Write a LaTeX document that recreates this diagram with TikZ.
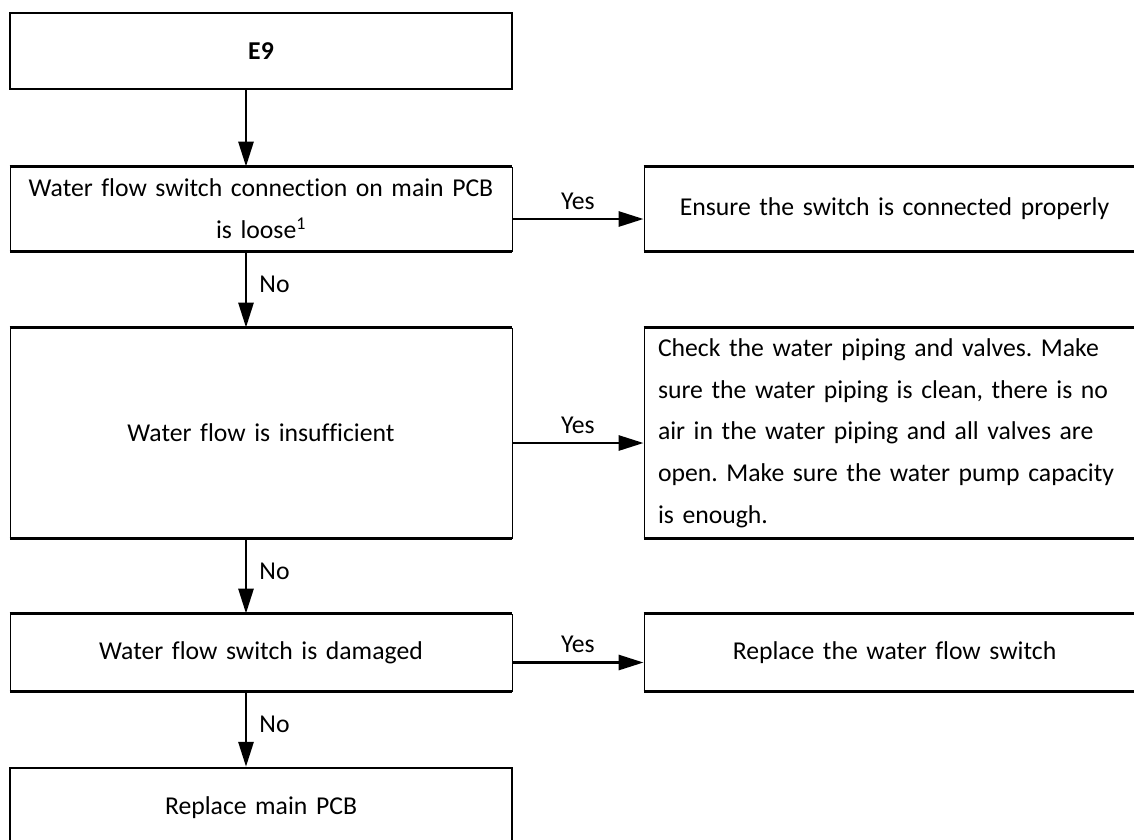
\documentclass[tikz,border=0pt]{standalone}
\usepackage{fontspec}
\setmainfont{Carlito}[Ligatures=NoCommon]
\usetikzlibrary{arrows.meta}
\frenchspacing
\begin{document}
\begin{tikzpicture}[x=1pt,y=-1pt,
  every node/.style={font=\fontsize{25.7}{41.7}\selectfont, inner sep=0pt},
  lbox/.style={rectangle, minimum width=502pt, align=center, text width=480pt},
  rbox/.style={rectangle, minimum width=501pt, align=center, text width=473pt},
  thickframe/.style={draw, line width=2.4pt},
  thinframe/.style={draw, line width=0.9pt},
  rule/.style={line width=2.4pt},
  flow/.style={line width=2.9pt, -{Triangle[length=25pt,width=15pt]}},
  lab/.style={font=\fontsize{25.7}{30}\selectfont}
]
\useasboundingbox (0,0) rectangle (1134,839);

% left column
\node[lbox, thickframe, minimum height=76pt] (e9) at (261,51) {\textbf{E9}};
\node[lbox, thinframe, minimum height=84pt] (b2) at (261,209)
  {Water flow switch connection on main PCB\\is loose\textsuperscript{1}};
\node[lbox, thinframe, minimum height=210pt] (b3) at (261,433) {Water flow is insufficient};
\node[lbox, thinframe, minimum height=77pt] (b4) at (261,652.5) {Water flow switch is damaged};
\node[lbox, thickframe, minimum height=80pt] (b5) at (261,808) {Replace main PCB};

% right column
\node[rbox, thinframe, minimum height=84pt] (r1) at (894.5,209) {Ensure the switch is connected properly};
\node[rbox, thinframe, minimum height=210pt, align=left] (r2) at (894.5,433)
  {Check the water piping and valves. Make\\
   sure the water piping is clean, there is no\\
   air in the water piping and all valves are\\
   open. Make sure the water pump capacity\\
   is enough.};
\node[rbox, thinframe, minimum height=77pt] (r3) at (894.5,652.5) {Replace the water flow switch};

% heavier horizontal rules of the boxes
\foreach \n in {b2,b3,b4,r1,r2,r3}{
  \draw[rule] (\n.north west) -- (\n.north east);
  \draw[rule] (\n.south west) -- (\n.south east);
}

% connectors
\draw[flow] ([xshift=-15pt]e9.south) -- ([xshift=-15pt]b2.north);
\draw[flow] ([xshift=-15pt]b2.south) --
  node[lab, midway, anchor=base west, xshift=12pt, yshift=-3pt] {No} ([xshift=-15pt]b3.north);
\draw[flow] ([xshift=-15pt]b3.south) --
  node[lab, midway, anchor=base west, xshift=12pt, yshift=-3pt] {No} ([xshift=-15pt]b4.north);
\draw[flow] ([xshift=-15pt]b4.south) --
  node[lab, midway, anchor=base west, xshift=12pt, yshift=-3pt] {No} ([xshift=-15pt]b5.north);

\draw[flow] ([yshift=-10pt]b2.east) --
  node[lab, midway, anchor=base, yshift=10pt] {Yes} ([yshift=-10pt]r1.west);
\draw[flow] ([yshift=-10pt]b3.east) --
  node[lab, midway, anchor=base, yshift=10pt] {Yes} ([yshift=-10pt]r2.west);
\draw[flow] ([yshift=-10pt]b4.east) --
  node[lab, midway, anchor=base, yshift=10pt] {Yes} ([yshift=-10pt]r3.west);
\end{tikzpicture}
\end{document}
